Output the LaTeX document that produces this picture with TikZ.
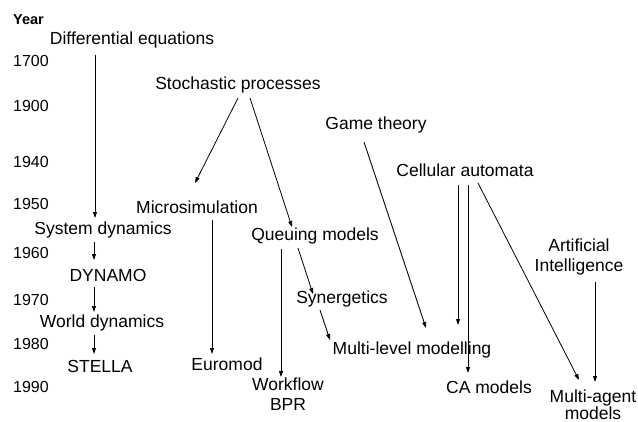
\documentclass[tikz,border=0pt]{standalone}
\usepackage{fontspec}
\setmainfont{Liberation Sans}
\usetikzlibrary{arrows.meta}
\begin{document}
\begin{tikzpicture}[x=1pt,y=-1pt,
  lbl/.style={inner sep=0pt,anchor=center,font=\fontsize{17.5}{20}\selectfont,align=center},
  yr/.style={inner sep=0pt,anchor=west,font=\fontsize{16}{18}\selectfont},
  arr/.style={line width=0.8pt,-{Triangle[length=6pt,width=4pt]}}]
\useasboundingbox[fill=white] (0,0) rectangle (638,421);
% year axis
\node[yr,font=\fontsize{14.5}{16}\selectfont\bfseries] (year) at (13,20) {Year};
\node[yr] (y1700) at (13,61) {1700};
\node[yr] (y1900) at (13,106) {1900};
\node[yr] (y1940) at (13,162) {1940};
\node[yr] (y1950) at (13,204) {1950};
\node[yr] (y1960) at (13,253) {1960};
\node[yr] (y1970) at (13,300) {1970};
\node[yr] (y1980) at (13,344) {1980};
\node[yr] (y1990) at (13,387) {1990};
% nodes
\node[lbl] (diffeq) at (132,40) {Differential equations};
\node[lbl] (sd) at (103,230) {System dynamics};
\node[lbl] (dyn) at (108,275) {DYNAMO};
\node[lbl] (wd) at (102,323) {World dynamics};
\node[lbl] (stella) at (100,366) {STELLA};
\node[lbl] (sp) at (238,85) {Stochastic processes};
\node[lbl] (micro) at (197,207) {Microsimulation};
\node[lbl] (euromod) at (227,364) {Euromod};
\node[lbl] (queue) at (315,236) {Queuing models};
\node[lbl] (workflow) at (288,394) {Workflow\\BPR};
\node[lbl] (syn) at (342,299) {Synergetics};
\node[lbl] (mlm) at (412,350) {Multi-level modelling};
\node[lbl] (gt) at (376,125) {Game theory};
\node[lbl] (ca) at (465,170) {Cellular automata};
\node[lbl] (camod) at (489,387) {CA models};
\node[lbl] (ai) at (579,257) {Artificial\\Intelligence};
\node[lbl,font=\fontsize{17.5}{11.5}\selectfont] (mam) at (593,404.5) {Multi-agent\\models};
% connectors
\draw[arr] ([shift={(-37,15)}]diffeq.center) -- ([shift={(-8,-12)}]sd.center);
\draw[arr] ([shift={(-9,12)}]sd.center) -- ([shift={(-14,-15)}]dyn.center);
\draw[arr] ([shift={(-14,12)}]dyn.center) -- ([shift={(-8,-11)}]wd.center);
\draw[arr] ([shift={(-8,12)}]wd.center) -- ([shift={(-6,-12)}]stella.center);
\draw[arr] ([shift={(0,13)}]sp.center) -- ([shift={(-2,-24)}]micro.center);
\draw[arr] ([shift={(12,13)}]sp.center) -- ([shift={(-23,-9)}]queue.center);
\draw[arr] ([shift={(15,13)}]micro.center) -- ([shift={(-15,-10)}]euromod.center);
\draw[arr] ([shift={(-34,13)}]queue.center) -- ([shift={(-7,-17)}]workflow.center);
\draw[arr] ([shift={(-17,12)}]queue.center) -- ([shift={(-29,-5)}]syn.center);
\draw[arr] ([shift={(-22,11)}]syn.center) -- ([shift={(-82,-10)}]mlm.center);
\draw[arr] ([shift={(-12,17)}]gt.center) -- ([shift={(14,-22)}]mlm.center);
\draw[arr] ([shift={(-7,15)}]ca.center) -- ([shift={(46,-25)}]mlm.center);
\draw[arr] ([shift={(3,15)}]ca.center) -- ([shift={(-21,-14)}]camod.center);
\draw[arr] ([shift={(13,13)}]ca.center) -- ([shift={(-14,-24.5)}]mam.center);
\draw[arr] ([shift={(16,25)}]ai.center) -- ([shift={(2,-22.5)}]mam.center);
\end{tikzpicture}
\end{document}
